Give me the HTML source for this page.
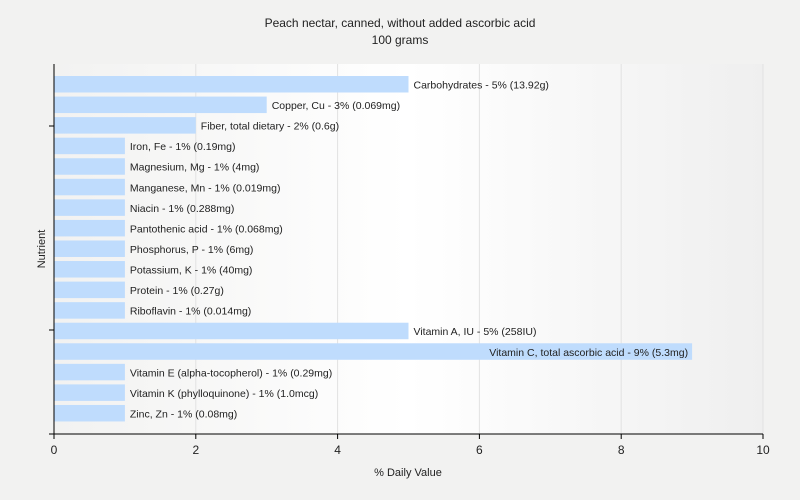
<!DOCTYPE html>
<html><head><meta charset="utf-8"><style>
body{margin:0;background:#f2f2f1;font-family:"Liberation Sans",sans-serif;overflow:hidden;}
svg{display:block;}
svg text{font-family:"Liberation Sans",sans-serif;}
</style></head><body>
<svg id="c" width="800" height="500" xmlns="http://www.w3.org/2000/svg">
<defs><linearGradient id="bg" x1="0" x2="1" y1="0" y2="0"><stop offset="0" stop-color="#f2f2f1"/><stop offset="0.5" stop-color="#ffffff"/><stop offset="1" stop-color="#efefef"/></linearGradient></defs>
<rect width="800" height="500" fill="#f2f2f1"/>
<text x="400" y="27" text-anchor="middle" font-size="12" fill="#222">Peach nectar, canned, without added ascorbic acid</text>
<text x="400" y="44" text-anchor="middle" font-size="12" fill="#222">100 grams</text>
<rect x="54" y="64" width="709" height="370" fill="url(#bg)"/>
<g id="grid"></g><g id="bars"></g><g id="axes"></g>
<text x="408" y="476" text-anchor="middle" font-size="11" fill="#222">% Daily Value</text>
<text x="45" y="249" text-anchor="middle" font-size="11" fill="#222" transform="rotate(-90 45 249)">Nutrient</text>
</svg>
<script>
const labels=["Carbohydrates - 5% (13.92g)","Copper, Cu - 3% (0.069mg)","Fiber, total dietary - 2% (0.6g)","Iron, Fe - 1% (0.19mg)","Magnesium, Mg - 1% (4mg)","Manganese, Mn - 1% (0.019mg)","Niacin - 1% (0.288mg)","Pantothenic acid - 1% (0.068mg)","Phosphorus, P - 1% (6mg)","Potassium, K - 1% (40mg)","Protein - 1% (0.27g)","Riboflavin - 1% (0.014mg)","Vitamin A, IU - 5% (258IU)","Vitamin C, total ascorbic acid - 9% (5.3mg)","Vitamin E (alpha-tocopherol) - 1% (0.29mg)","Vitamin K (phylloquinone) - 1% (1.0mcg)","Zinc, Zn - 1% (0.08mg)"];
const values=[5,3,2,1,1,1,1,1,1,1,1,1,5,9,1,1,1];
const ticks=[0,2,4,6,8,10];
const NS="http://www.w3.org/2000/svg";
const x=v=>54+v*70.9;
const y=i=>76+i*20.56;
function mk(t,a,p){const e=document.createElementNS(NS,t);for(const k in a)e.setAttribute(k,a[k]);p.appendChild(e);return e;}
const G=document.getElementById('grid'),B=document.getElementById('bars'),A=document.getElementById('axes');
ticks.forEach(t=>{
 if(t>0){const l=mk('line',{x1:x(t),x2:x(t),y1:64,y2:434,stroke:'#e2e2e2'},G);
 
 }
 const k=mk('line',{x1:x(t),x2:x(t),y1:434,y2:439,stroke:'#000'},A);
 
 
 const tx=mk('text',{x:x(t),y:454,'text-anchor':'middle','font-size':12,fill:'#222'},A);tx.textContent=t;
 
 
});
values.forEach((v,i)=>{
 const r=mk('rect',{x:54,y:y(i),width:x(v)-54,height:16.5,fill:'#bfdcfd'},B);
 
 
 const tx=mk('text',{x:x(v)+5,y:y(i)+12.5,'font-size':10.5,fill:'#222'},B);tx.textContent=labels[i];
 
 
 if(x(v)+5+tx.getComputedTextLength()>790){tx.setAttribute('x',x(v)-4);tx.setAttribute('text-anchor','end');}
});
const ya=mk('line',{x1:54,x2:54,y1:64,y2:434,stroke:'#000'},A);


const xa=mk('line',{x1:49,x2:763,y1:434,y2:434,stroke:'#000'},A);


[126,330].forEach((yy,j)=>{const k=mk('line',{x1:49,x2:54,y1:yy,y2:yy,stroke:'#000'},A);
 
 });
</script>
</body></html>
